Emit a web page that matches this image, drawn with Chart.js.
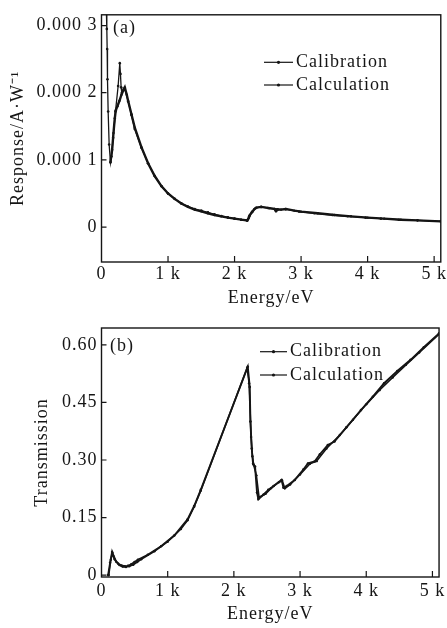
<!DOCTYPE html>
<html><head><meta charset="utf-8">
<script src="https://cdn.jsdelivr.net/npm/chart.js@4"></script>
<style>
html,body{margin:0;padding:0;background:#fff;}
#wrap{position:relative;width:447px;height:628px;overflow:hidden;background:#fff;}
canvas{position:absolute;left:0;}
</style></head><body>
<div id="wrap">
<canvas id="cA" width="447" height="310" style="top:0;width:447px;height:310px"></canvas>
<canvas id="cB" width="447" height="318" style="top:310px;width:447px;height:318px"></canvas>
</div>
<script>
// ---------- data ----------
const seriesNames = ['Calibration', 'Calculation'];
const xTicks = [0, 1000, 2000, 3000, 4000, 5000];
const xTickLabels = ['0', '1 k', '2 k', '3 k', '4 k', '5 k'];
const yTicksA = [0, 0.0001, 0.0002, 0.0003];
const yTickLabelsA = ['0', '0.000 1', '0.000 2', '0.000 3'];
const yTicksB = [0, 0.15, 0.30, 0.45, 0.60];
const yTickLabelsB = ['0', '0.15', '0.30', '0.45', '0.60'];

// (a) response, values in units of 1e-4 A/W
const energyCalibA = [70,80,85,90,100,115,135,150,175,210,250,275,285,295,305,350,400,450,500,600,700,800,900,1000,1100,1200,1300,1400,1500,1600,1700,1800,1900,2000,2100,2190,2220,2270,2320,2400,2520,2610,2625,2650,2770,2970,3200,3470,3700,3970,4200,4470,4750,5100];
const respCalibA = [3.35,2.95,2.65,2.2,1.72,1.23,0.96,1.05,1.33,1.72,2.10,2.44,2.28,2.08,2.0,2.06,1.87,1.67,1.46,1.18,0.95,0.76,0.61,0.50,0.42,0.355,0.305,0.27,0.245,0.22,0.19,0.165,0.145,0.125,0.11,0.095,0.16,0.23,0.285,0.30,0.28,0.265,0.235,0.26,0.265,0.23,0.205,0.18,0.16,0.14,0.125,0.11,0.10,0.085];
const energyCalcA = [135,160,180,200,215,240,270,300,330,350,380,400,450,500,600,700,800,900,1000,1100,1200,1300,1400,1500,1600,1700,1800,1900,2000,2100,2190,2210,2230,2260,2300,2330,2400,2500,2600,2620,2640,2700,2770,2900,3000,3250,3500,3750,4000,4250,4500,4750,5100];
const respCalcA = [0.97,1.15,1.40,1.62,1.74,1.80,1.88,1.97,2.04,2.08,1.97,1.88,1.68,1.48,1.19,0.95,0.76,0.61,0.50,0.42,0.35,0.30,0.26,0.235,0.205,0.18,0.16,0.14,0.125,0.11,0.10,0.13,0.18,0.22,0.27,0.29,0.30,0.285,0.27,0.245,0.265,0.26,0.27,0.245,0.23,0.205,0.18,0.16,0.14,0.125,0.11,0.10,0.085];
const respScaleA = 1e-4;

// (b) transmission
const energyCalibB = [100,130,160,180,200,250,300,350,400,450,500,550,700,900,1100,1300,1400,1500,2210,2240,2250,2270,2290,2320,2350,2370,2450,2520,2600,2720,2750,2800,2920,3050,3120,3220,3300,3420,3520,3700,3920,4100,4270,4470,4670,4870,5100];
const transCalibB = [0.0,0.032,0.060,0.050,0.041,0.030,0.025,0.023,0.024,0.028,0.034,0.040,0.053,0.075,0.103,0.145,0.18,0.222,0.543,0.49,0.40,0.33,0.29,0.283,0.215,0.198,0.21,0.222,0.232,0.248,0.228,0.232,0.248,0.275,0.291,0.296,0.315,0.339,0.348,0.385,0.43,0.465,0.50,0.532,0.561,0.594,0.63];
const energyCalcB = [110,140,165,190,220,270,320,370,420,480,540,600,800,1000,1200,1300,1400,1500,2200,2230,2260,2280,2300,2340,2380,2480,2560,2680,2730,2770,2850,3000,3150,3250,3400,3600,3800,4000,4200,4400,4600,4800,5100];
const transCalcB = [0.0,0.040,0.058,0.046,0.035,0.026,0.022,0.021,0.023,0.027,0.034,0.041,0.062,0.087,0.120,0.143,0.178,0.22,0.54,0.50,0.36,0.31,0.287,0.26,0.203,0.212,0.226,0.242,0.246,0.226,0.236,0.262,0.29,0.297,0.33,0.365,0.405,0.445,0.482,0.515,0.548,0.58,0.628];

// ---------- helpers ----------
const FONT = "'Liberation Serif', 'Times New Roman', serif";
const INK = '#151515';
Chart.defaults.font.family = FONT;
Chart.defaults.font.size = 18;
Chart.defaults.color = INK;

function pts(xs, ys, k) { return xs.map((x, i) => ({x: x, y: ys[i] * (k || 1)})); }

const spacingPlugin = {
  id: 'spacing',
  beforeDraw(chart) { chart.ctx.letterSpacing = '1px'; }
};

const framePlugin = {
  id: 'frame',
  afterDraw(chart, args, o) {
    const {ctx, chartArea: a} = chart;
    const xs = chart.scales.x, ys = chart.scales.y;
    ctx.save();
    ctx.strokeStyle = INK;
    ctx.lineWidth = 1.4;
    ctx.strokeRect(a.left, a.top, a.right - a.left, a.bottom - a.top);
    ctx.lineWidth = 1.2;
    ctx.beginPath();
    o.xt.forEach(v => {
      if (v === 0) return;
      const p = xs.getPixelForValue(v);
      ctx.moveTo(p, a.bottom); ctx.lineTo(p, a.bottom - 6);
    });
    o.yt.forEach(v => {
      const p = ys.getPixelForValue(v);
      ctx.moveTo(a.left, p); ctx.lineTo(a.left + 5, p);
    });
    ctx.stroke();
    // panel label
    ctx.letterSpacing = '1px';
    ctx.fillStyle = INK;
    ctx.font = '18px ' + FONT;
    ctx.textBaseline = 'middle';
    ctx.textAlign = 'left';
    ctx.fillText(o.panel, o.px, o.py);
    // legend
    chart.data.datasets.forEach((ds, i) => {
      const y = o.rows[i];
      ctx.strokeStyle = INK;
      ctx.lineWidth = 1.2;
      ctx.beginPath(); ctx.moveTo(o.lx1, y); ctx.lineTo(o.lx2, y); ctx.stroke();
      ctx.beginPath(); ctx.arc((o.lx1 + o.lx2) / 2, y, 1.6, 0, Math.PI * 2); ctx.fill();
      ctx.fillText(ds.label, o.tx, y);
    });
    ctx.restore();
  }
};

function makeChart(id, datasets, cfg) {
  return new Chart(document.getElementById(id), {
    type: 'scatter',
    data: {datasets: datasets},
    plugins: [spacingPlugin, framePlugin],
    options: {
      responsive: false,
      devicePixelRatio: 1,
      animation: false,
      events: [],
      layout: {padding: {top: cfg.top, right: 6, left: 0, bottom: 0}},
      plugins: {
        legend: {display: false},
        tooltip: {enabled: false},
        frame: cfg.frame
      },
      scales: {
        x: {
          type: 'linear', min: 0, max: 5100,
          grid: {display: false, drawTicks: false},
          border: {display: false},
          afterBuildTicks: s => { s.ticks = xTicks.map(v => ({value: v})); },
          afterFit: s => { s.height = cfg.xh; },
          ticks: {
            padding: cfg.xpad, maxRotation: 0, autoSkip: false, color: INK,
            callback: v => { const i = xTicks.indexOf(v); return i >= 0 ? xTickLabels[i] : ''; }
          },
          title: {display: true, text: 'Energy/eV', color: INK, padding: {top: 0, bottom: cfg.tpad}}
        },
        y: {
          type: 'linear', min: cfg.ymin, max: cfg.ymax,
          grid: {display: false, drawTicks: false},
          border: {display: false},
          afterBuildTicks: s => { s.ticks = cfg.yt.map(v => ({value: v})); },
          afterFit: s => { s.width = 101.5; },
          ticks: {
            padding: 4, color: INK,
            callback: v => { const i = cfg.yt.indexOf(v); return i >= 0 ? cfg.yl[i] : ''; }
          },
          title: {display: true, text: cfg.ytitle, color: INK, padding: {top: cfg.ytpad, bottom: 0}}
        }
      }
    }
  });
}

makeChart('cA', [
  {label: seriesNames[0], data: pts(energyCalibA, respCalibA, respScaleA), showLine: true,
   borderColor: INK, backgroundColor: INK, borderWidth: 1.3, pointRadius: 1.3, pointBorderWidth: 0},
  {label: seriesNames[1], data: pts(energyCalcA, respCalcA, respScaleA), showLine: true,
   borderColor: INK, backgroundColor: INK, borderWidth: 2.4, pointRadius: 1.2, pointBorderWidth: 0}
], {
  top: 11.5, xh: 48, xpad: 1.5, tpad: 1.2, ytpad: 7,
  ymin: -0.000052, ymax: 0.000316, yt: yTicksA, yl: yTickLabelsA,
  ytitle: 'Response/A·W⁻¹',
  frame: {xt: xTicks, yt: yTicksA, panel: '(a)', px: 113, py: 28.5,
          rows: [62.3, 85], lx1: 264, lx2: 293, tx: 296}
});

makeChart('cB', [
  {label: seriesNames[0], data: pts(energyCalibB, transCalibB), showLine: true,
   borderColor: INK, backgroundColor: INK, borderWidth: 1.9, pointRadius: 1.3, pointBorderWidth: 0},
  {label: seriesNames[1], data: pts(energyCalcB, transCalcB), showLine: true,
   borderColor: INK, backgroundColor: INK, borderWidth: 1.6, pointRadius: 1.2, pointBorderWidth: 0}
], {
  top: 18, xh: 51, xpad: 3.2, tpad: 3.2, ytpad: 31.5,
  ymin: -0.005, ymax: 0.644, yt: yTicksB, yl: yTickLabelsB,
  ytitle: 'Transmission',
  frame: {xt: xTicks, yt: yTicksB, panel: '(b)', px: 110, py: 36,
          rows: [41.7, 65], lx1: 260, lx2: 287, tx: 290}
});
</script>
</body></html>
